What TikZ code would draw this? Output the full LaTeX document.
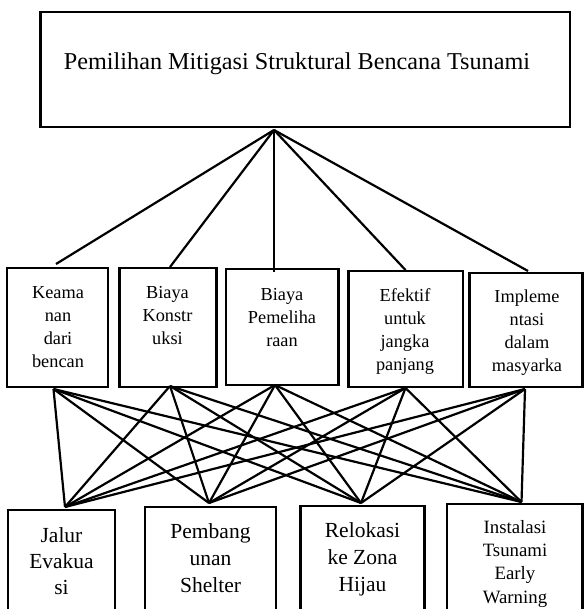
\documentclass[tikz,border=0pt]{standalone}
\usepackage{fontspec}
\setmainfont{Liberation Serif}
\usetikzlibrary{fit}
\begin{document}
\begin{tikzpicture}[x=1pt,y=-1pt,
  box/.style={draw, line width=2.2pt, inner sep=0pt, outer sep=0pt},
  link/.style={line width=2.2pt},
  lblm/.style={inner sep=0pt, align=center, anchor=north, font=\fontsize{18.3}{23}\selectfont},
  lblb/.style={inner sep=0pt, align=center, anchor=north, font=\fontsize{21.5}{27}\selectfont},
  lblc/.style={inner sep=0pt, align=center, anchor=north, font=\fontsize{18.8}{23.3}\selectfont}]
\useasboundingbox (0,0) rectangle (584,609);
\clip (0,0) rectangle (584,609);
\fill[white] (0,0) rectangle (584,609);
% top box
\node[box, fit={(40.5,12) (570,127)}] (top) {};
\node[inner sep=0pt, font=\fontsize{24.2}{29}\selectfont] (toptext) at (297,64) {Pemilihan Mitigasi Struktural Bencana Tsunami};
% middle boxes
\node[box, fit={(7,268) (108,387)}] (m1) {};
\node[box, fit={(119.5,268) (216.5,387)}] (m2) {};
\node[box, fit={(226,269) (338.5,385)}] (m3) {};
\node[box, fit={(348.5,271) (463,387)}] (m4) {};
\node[box, fit={(469.5,273) (582.5,387)}] (m5) {};
\node[lblm] (m1t) at (58,286) {Keama\\nan\\dari\\bencan};
\node[lblm] (m2t) at (167.5,286) {Biaya\\Konstr\\uksi};
\node[lblm] (m3t) at (282,288) {Biaya\\Pemeliha\\raan};
\node[lblm] (m4t) at (405,288) {Efektif\\untuk\\jangka\\panjang};
\node[lblm] (m5t) at (527,290) {Impleme\\ntasi\\dalam\\masyarka};
% bottom boxes
\node[box, fit={(8,510) (115,640)}] (b1) {};
\node[box, fit={(145,507) (276,640)}] (b2) {};
\node[box, fit={(300.5,506) (424.5,640)}] (b3) {};
\node[box, fit={(447,504) (582.5,640)}] (b4) {};
\node[lblb, font=\fontsize{21.5}{26}\selectfont] (b1t) at (61.5,527) {Jalur\\Evakua\\si};
\node[lblb] (b2t) at (210.5,523) {Pembang\\unan\\Shelter};
\node[lblb] (b3t) at (362.5,522) {Relokasi\\ke Zona\\Hijau};
\node[lblc] (b4t) at (515,520) {Instalasi\\Tsunami\\Early\\Warning};
% connection points
\coordinate (apex) at (274,130);
\coordinate (t1) at (56,264);
\coordinate (t2) at (170,267);
\coordinate (t3) at (274,272);
\coordinate (t4) at (405.5,270);
\coordinate (t5) at (528,271);
\coordinate (p1) at (53.5,389);
\coordinate (p2) at (170,386);
\coordinate (p3) at (275,385);
\coordinate (p4) at (405.5,388);
\coordinate (p5) at (525,389);
\coordinate (q1) at (65,507);
\coordinate (q2) at (209,503);
\coordinate (q3) at (361,503);
\coordinate (q4) at (521.5,502);
\foreach \t in {t1,t2,t3,t4,t5} \draw[link] (apex) -- (\t);
\foreach \p in {p1,p2,p3,p4,p5}
  \foreach \q in {q1,q2,q3,q4}
    \draw[link] (\p) -- (\q);
\end{tikzpicture}
\end{document}
